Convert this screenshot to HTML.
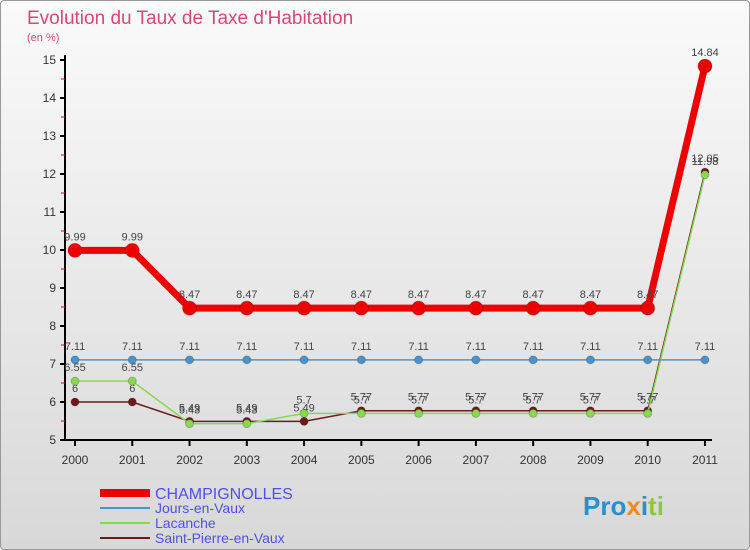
<!DOCTYPE html>
<html><head><meta charset="utf-8"><style>
body{margin:0;width:750px;height:550px;overflow:hidden;font-family:"Liberation Sans",sans-serif}
#wrap{position:absolute;left:0;top:0;width:748px;height:548px;border:1px solid #999;border-radius:4px;background:linear-gradient(#fafafa,#d8d8d8)}
</style></head><body>
<div id="wrap"></div>
<svg id="chart" width="750" height="550" style="position:absolute;left:0;top:0">
<text x="27" y="24" font-size="19" fill="#d9477a">Evolution du Taux de Taxe d'Habitation</text>
<text x="27" y="41" font-size="11" fill="#d9477a">(en %)</text>
<g id="axes"></g><g id="series"></g><g id="legend"></g>
<text x="583" y="515" font-size="26" font-weight="bold" fill="#2a8fd0">Pro<tspan fill="#f08a1c">x</tspan><tspan fill="#2a8fd0">i</tspan><tspan fill="#8bc83c">ti</tspan></text>
</svg>
<script>
const years=[2000,2001,2002,2003,2004,2005,2006,2007,2008,2009,2010,2011];
const yTicks=[5,6,7,8,9,10,11,12,13,14,15];
const champ=[9.99,9.99,8.47,8.47,8.47,8.47,8.47,8.47,8.47,8.47,8.47,14.84];
const jours=[7.11,7.11,7.11,7.11,7.11,7.11,7.11,7.11,7.11,7.11,7.11,7.11];
const lacanche=[6.55,6.55,5.43,5.43,5.7,5.7,5.7,5.7,5.7,5.7,5.7,11.98];
const stpierre=[6,6,5.49,5.49,5.49,5.77,5.77,5.77,5.77,5.77,5.77,12.05];
const names=["CHAMPIGNOLLES","Jours-en-Vaux","Lacanche","Saint-Pierre-en-Vaux"];
const NS="http://www.w3.org/2000/svg";
const X=i=>75+i*57.27, Y=v=>440-(v-5)*38;
function mk(tag,attrs,parent){const e=document.createElementNS(NS,tag);for(const k in attrs)e.setAttribute(k,attrs[k]);parent.appendChild(e);return e;}
const ax=document.getElementById('axes');
let e=mk('line',{x1:65,y1:55,x2:65,y2:440,stroke:'#000','stroke-width':2},ax);


e=mk('line',{x1:65,y1:440,x2:712,y2:440,stroke:'#000','stroke-width':2},ax);


yTicks.forEach(v=>{
 mk('line',{x1:60,y1:Y(v),x2:65,y2:Y(v),stroke:'#000','stroke-width':2},ax);
 if(v<15)mk('line',{x1:61,y1:Y(v+0.5),x2:65,y2:Y(v+0.5),stroke:'#e00','stroke-width':1},ax);
 const t=mk('text',{x:56,y:Y(v)+4,'font-size':12,'text-anchor':'end',fill:'#333'},ax);t.textContent=v;
 
 
});
years.forEach((y,i)=>{
 mk('line',{x1:X(i),y1:440,x2:X(i),y2:446,stroke:'#000','stroke-width':2},ax);
 const t=mk('text',{x:X(i),y:464,'font-size':12,'text-anchor':'middle',fill:'#333'},ax);t.textContent=y;
 
 
});
const sg=document.getElementById('series');
const defs=[[stpierre,'#6e1a1a',1.5,4,'saint-pierre'],[lacanche,'#88d850',1.5,4,'lacanche'],[jours,'#4a94cc',1.5,4,'jours-en-vaux'],[champ,'#ee0000',7,7,'champignolles']];
defs.forEach(([d,c,w,r,n])=>{
 const p=mk('polyline',{points:d.map((v,i)=>X(i)+','+Y(v)).join(' '),fill:'none',stroke:c,'stroke-width':w},sg);
 
 
 d.forEach((v,i)=>{
  const ci=mk('circle',{cx:X(i),cy:Y(v),r:r,fill:c,stroke:'#0003'},sg);
  
  
  const t=mk('text',{x:X(i),y:Y(v)-10,'font-size':11,'text-anchor':'middle',fill:'#444'},sg);t.textContent=v;
  
  
 });
});
const lg=document.getElementById('legend');
const lc=['#ee0000','#4a94cc','#88d850','#6e1a1a'],lw=[8,2,2,2];
names.forEach((nm,i)=>{
 const y=493+i*15;
 mk('line',{x1:100,y1:y,x2:150,y2:y,stroke:lc[i],'stroke-width':lw[i]},lg);
 const t=mk('text',{x:155,y:y+(i==0?6:5),'font-size':i==0?16:14,fill:'#5050e8'},lg);t.textContent=nm;
 
 
});
</script>
</body></html>
